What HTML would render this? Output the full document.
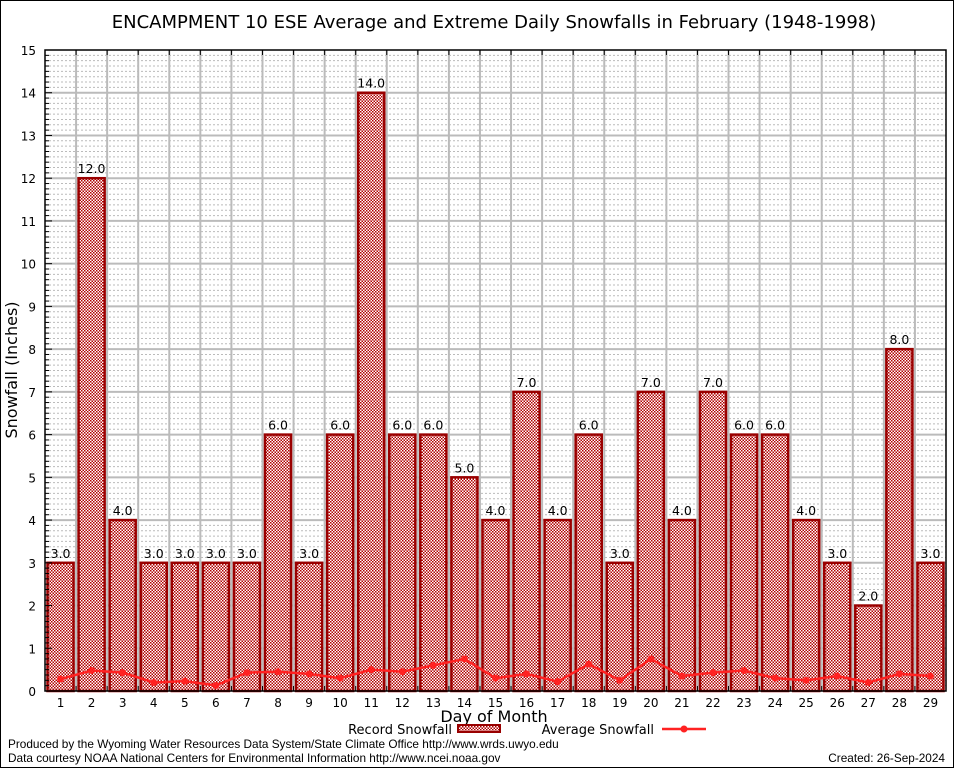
<!DOCTYPE html>
<html><head><meta charset="utf-8"><style>
body{margin:0;background:#fff}
svg text{font-family:"DejaVu Sans",sans-serif}
</style></head><body>
<svg id="s" width="954" height="768" xmlns="http://www.w3.org/2000/svg">
<defs>
<pattern id="p" width="3" height="3" patternUnits="userSpaceOnUse">
<rect width="3" height="3" fill="#fff"/>
<rect width="1.5" height="1.5" fill="#b00000"/>
<rect x="1.5" y="1.5" width="1.5" height="1.5" fill="#b00000"/>
</pattern>
</defs>
<rect x="0.5" y="0.5" width="953" height="767" fill="#fff" stroke="#000"/>
<text x="494" y="28" font-size="18" text-anchor="middle">ENCAMPMENT 10 ESE Average and Extreme Daily Snowfalls in February (1948-1998)</text>
<g id="g"></g>
<text x="17" y="370" font-size="16" text-anchor="middle" transform="rotate(-90 17 370)">Snowfall (Inches)</text>
<text x="494" y="722" font-size="16" text-anchor="middle">Day of Month</text>
<text x="452" y="734" font-size="13" text-anchor="end">Record Snowfall</text>
<rect x="458" y="725" width="42" height="7" fill="url(#p)" stroke="#900" stroke-width="2"/>
<text x="654" y="734" font-size="13" text-anchor="end">Average Snowfall</text>
<line x1="662" y1="729" x2="706" y2="729" stroke="#f22" stroke-width="2.5"/>
<circle cx="684" cy="729" r="3.5" fill="#f22"/>
<text x="8" y="748" font-size="11.8" style="font-family:'Liberation Sans',sans-serif">Produced by the Wyoming Water Resources Data System/State Climate Office http://www.wrds.uwyo.edu</text>
<text x="8" y="762" font-size="11.8" style="font-family:'Liberation Sans',sans-serif">Data courtesy NOAA National Centers for Environmental Information http://www.ncei.noaa.gov</text>
<text x="945" y="762" font-size="11.8" text-anchor="end" style="font-family:'Liberation Sans',sans-serif">Created:  26-Sep-2024</text>
</svg>
<script>
var rec=[3,12,4,3,3,3,3,6,3,6,14,6,6,5,4,7,4,6,3,7,4,7,6,6,4,3,2,8,3];
var avg=[.28,.48,.43,.2,.23,.13,.43,.45,.4,.3,.5,.45,.6,.75,.3,.4,.22,.63,.25,.75,.35,.43,.48,.3,.25,.35,.2,.4,.35];
var L=45,T=50,R=946,B=691,W=(R-L)/29,H=(B-T)/15,h='';
function y(v){return B-v*H}
for(var i=0;i<15;i++)for(var j=1;j<8;j++){var yy=y(i+j/8);h+='<line x1="'+L+'" x2="'+R+'" y1="'+yy+'" y2="'+yy+'" stroke="#bbb" stroke-width="1" stroke-dasharray="2,2"/>';}
for(var i=1;i<15;i++)h+='<line x1="'+L+'" x2="'+R+'" y1="'+y(i)+'" y2="'+y(i)+'" stroke="#bbb" stroke-width="2"/>';
for(var i=1;i<29;i++){var x=L+i*W;h+='<line x1="'+x+'" x2="'+x+'" y1="'+T+'" y2="'+B+'" stroke="#bbb" stroke-width="2"/>';}
for(var i=0;i<29;i++){var x=L+i*W;h+='<rect x="'+(x+2.5)+'" y="'+y(rec[i])+'" width="'+(W-5)+'" height="'+(rec[i]*H)+'" fill="url(#p)" stroke="#9a0000" stroke-width="2.5"/>';
h+='<text x="'+(x+W/2)+'" y="'+(y(rec[i])-5)+'" font-size="12.5" text-anchor="middle">'+rec[i].toFixed(1)+'</text>';
h+='<text x="'+(x+W/2)+'" y="707" font-size="12" text-anchor="middle" font-family="Liberation Serif">'+(i+1)+'</text>';
h+='<line x1="'+x+'" x2="'+x+'" y1="'+B+'" y2="'+(B-5)+'" stroke="#000"/><line x1="'+x+'" x2="'+x+'" y1="'+T+'" y2="'+(T+5)+'" stroke="#000"/>';}
for(var i=0;i<=15;i++){h+='<text x="36" y="'+(y(i)+5)+'" font-size="12" text-anchor="end" font-family="Liberation Serif">'+i+'</text><line x1="'+L+'" x2="'+(L+7)+'" y1="'+y(i)+'" y2="'+y(i)+'" stroke="#000"/>';
if(i<15)for(var j=1;j<8;j++)h+='<line x1="'+L+'" x2="'+(L+4)+'" y1="'+y(i+j/8)+'" y2="'+y(i+j/8)+'" stroke="#000"/>';}
var pts=avg.map(function(v,i){return (L+(i+.5)*W)+','+y(v)}).join(' ');
h+='<polyline points="'+pts+'" fill="none" stroke="#f22" stroke-width="2.5"/>';
avg.forEach(function(v,i){h+='<circle cx="'+(L+(i+.5)*W)+'" cy="'+y(v)+'" r="3.5" fill="#f22"/>'});
h+='<rect x="'+L+'" y="'+T+'" width="'+(R-L)+'" height="'+(B-T)+'" fill="none" stroke="#000" stroke-width="1.5"/>';
document.getElementById('g').innerHTML=h;
</script>
</body></html>
